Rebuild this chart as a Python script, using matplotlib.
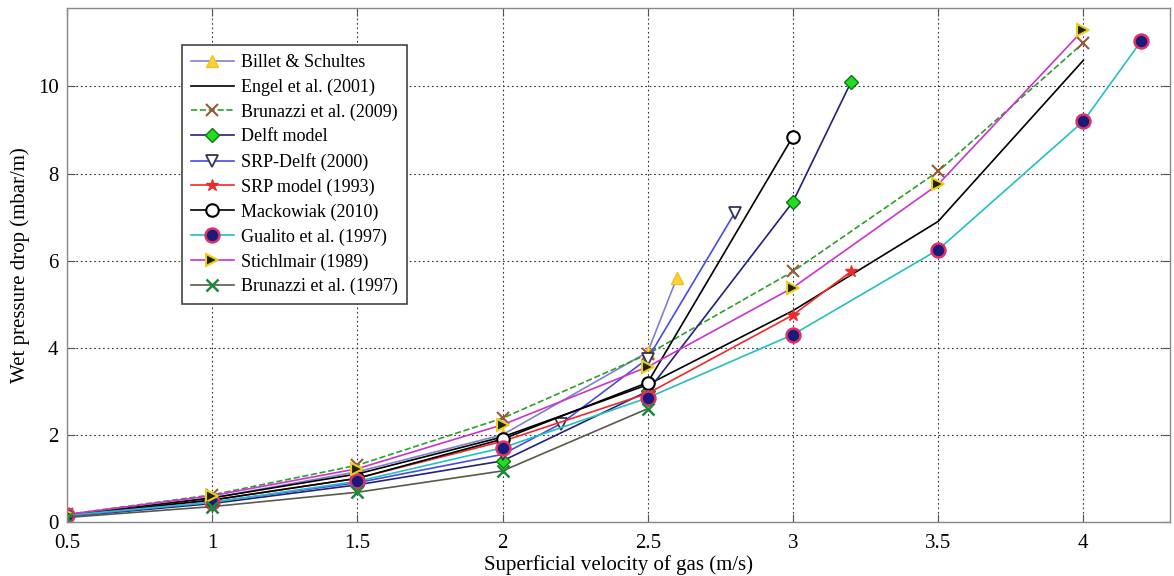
import matplotlib
matplotlib.use("Agg")
import matplotlib.pyplot as plt

plt.rcParams['font.family'] = ['Liberation Serif', 'DejaVu Serif']

# ---- data ----
billet_x = [0.5, 1.0, 1.5, 2.0, 2.5, 2.6]
billet_y = [0.15, 0.55, 1.15, 2.0, 3.9, 5.6]

engel_x = [0.5, 1.0, 1.5, 2.0, 2.5, 3.0, 3.5, 4.0]
engel_y = [0.15, 0.55, 1.1, 1.95, 3.15, 4.85, 6.9, 10.6]

brun09_x = [0.5, 1.0, 1.5, 2.0, 2.5, 3.0, 3.5, 4.0]
brun09_y = [0.17, 0.62, 1.3, 2.38, 3.85, 5.75, 8.05, 11.0]

delft_x = [0.5, 1.0, 1.5, 2.0, 2.5, 3.0, 3.2]
delft_y = [0.12, 0.42, 0.85, 1.4, 3.0, 7.35, 10.1]

srpdelft_x = [0.5, 1.0, 1.5, 2.0, 2.2, 2.5, 2.8]
srpdelft_y = [0.12, 0.45, 0.9, 1.55, 2.25, 3.75, 7.1]

srp_x = [0.5, 1.0, 1.5, 2.0, 2.5, 3.0, 3.2]
srp_y = [0.15, 0.5, 1.0, 1.85, 2.95, 4.75, 5.75]

mack_x = [0.5, 1.0, 1.5, 2.0, 2.5, 3.0]
mack_y = [0.15, 0.5, 1.0, 1.9, 3.2, 8.85]

gual_x = [0.5, 1.0, 1.5, 2.0, 2.5, 3.0, 3.5, 4.0, 4.2]
gual_y = [0.15, 0.45, 0.93, 1.7, 2.85, 4.3, 6.25, 9.2, 11.05]

stich_x = [0.5, 1.0, 1.5, 2.0, 2.5, 3.0, 3.5, 4.0]
stich_y = [0.17, 0.6, 1.22, 2.23, 3.56, 5.38, 7.75, 11.3]

brun97_x = [0.5, 1.0, 1.5, 2.0, 2.5]
brun97_y = [0.1, 0.35, 0.68, 1.17, 2.6]

labels = ["Billet & Schultes", "Engel et al. (2001)", "Brunazzi et al. (2009)",
          "Delft model", "SRP-Delft (2000)", "SRP model (1993)", "Mackowiak (2010)",
          "Gualito et al. (1997)", "Stichlmair (1989)", "Brunazzi et al. (1997)"]

xticks = [0.5, 1, 1.5, 2, 2.5, 3, 3.5, 4]
xticklabels = ["0.5", "1", "1.5", "2", "2.5", "3", "3.5", "4"]
yticks = [0, 2, 4, 6, 8, 10]
yticklabels = ["0", "2", "4", "6", "8", "10"]

fig = plt.figure(figsize=(11.74, 5.76), dpi=100)
ax = fig.add_axes([0.057, 0.094, 0.940, 0.892])

lw = 1.2
ax.plot(billet_x, billet_y, color='#8080d0', lw=lw, marker='^', ms=8,
        mfc='#ffd23a', mec='#f0c020', label=labels[0])
ax.plot(engel_x, engel_y, color='black', lw=lw, label=labels[1])
ax.plot(brun09_x, brun09_y, color='#2e9e2e', lw=lw, ls='--', marker='x', ms=8,
        mec='#9a5a3a', mew=1.5, label=labels[2])
ax.plot(delft_x, delft_y, color='#22227a', lw=lw, marker='D', ms=7,
        mfc='#22dd22', mec='#0a7a0a', label=labels[3])
ax.plot(srpdelft_x, srpdelft_y, color='#4a4ae8', lw=lw, marker='v', ms=9,
        mfc='white', mec='#333355', mew=1.3, label=labels[4])
ax.plot(srp_x, srp_y, color='#ee2a2a', lw=lw, marker='*', ms=9,
        mfc='#ee2a2a', mec='#ee2a2a', label=labels[5])
ax.plot(mack_x, mack_y, color='black', lw=lw, marker='o', ms=9,
        mfc='white', mec='black', mew=1.5, label=labels[6])
ax.plot(gual_x, gual_y, color='#22c0c0', lw=lw, marker='o', ms=10,
        mfc='#1a1a7a', mec='#e0306a', mew=1.8, label=labels[7])
ax.plot(stich_x, stich_y, color='#cc33cc', lw=lw, marker='>', ms=9,
        mfc='#222200', mec='#e8d020', mew=1.5, label=labels[8])
ax.plot(brun97_x, brun97_y, color='#5a5a48', lw=lw, marker='x', ms=9,
        mec='#1a8a3a', mew=1.8, label=labels[9])

ax.set_xlim(0.5, 4.3)
ax.set_ylim(0, 11.8)
ax.set_xticks(xticks)
ax.set_xticklabels(xticklabels)
ax.set_yticks(yticks)
ax.set_yticklabels(yticklabels)
ax.tick_params(direction='in', top=True, right=True, labelsize=15, length=6,
               color='#555555')
ax.tick_params(axis='x', pad=9)
ax.tick_params(axis='y', pad=6)
ax.grid(True, ls=(0, (1.5, 2.5)), color='#333333', lw=0.8)
for s in ax.spines.values():
    s.set_color('#888888')
    s.set_linewidth(1.0)

ax.set_xlabel("Superficial velocity of gas (m/s)", fontsize=15, labelpad=1)
ax.set_ylabel("Wet pressure drop (mbar/m)", fontsize=15, labelpad=6)

leg = ax.legend(loc='upper left', bbox_to_anchor=(0.104, 0.928), fontsize=13,
                handlelength=2.4, labelspacing=0.42, borderpad=0.5,
                borderaxespad=0, handletextpad=0.4, fancybox=False,
                framealpha=1, edgecolor='#444444')
leg.get_frame().set_linewidth(1.2)

fig.savefig("out.png", dpi=100)
